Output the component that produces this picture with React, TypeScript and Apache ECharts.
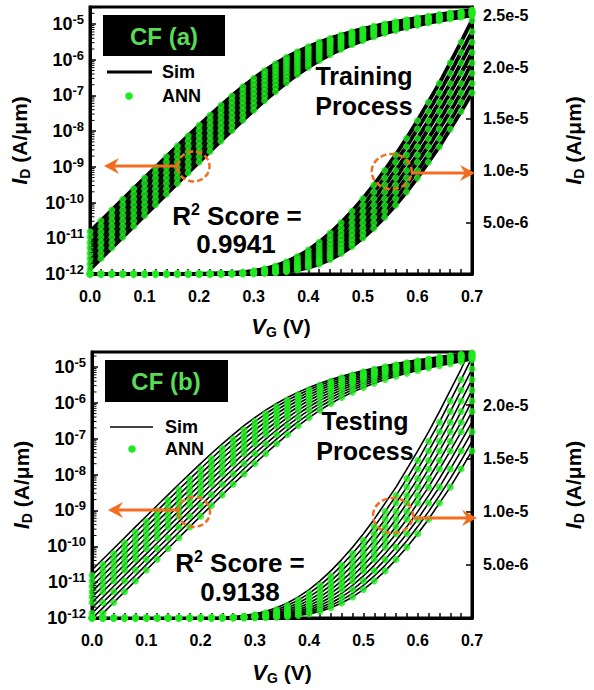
import React, { useEffect, useRef } from 'react';
import * as echarts from 'echarts';

// ---------- data ----------
const vgValues = [0, 0.02, 0.04, 0.06, 0.08, 0.1, 0.12, 0.14, 0.16, 0.18, 0.2, 0.22, 0.24, 0.26, 0.28, 0.3, 0.32, 0.34, 0.36, 0.38, 0.4, 0.42, 0.44, 0.46, 0.48, 0.5, 0.52, 0.54, 0.56, 0.58, 0.6, 0.62, 0.64, 0.66, 0.68, 0.7];

const curveVt030 = [2.17e-11, 4.34e-11, 8.68e-11, 1.73e-10, 3.46e-10, 6.88e-10, 1.37e-9, 2.71e-9, 5.34e-9, 1.04e-8, 2.02e-8, 3.85e-8, 7.18e-8, 1.30e-7, 2.29e-7, 3.86e-7, 6.22e-7, 9.57e-7, 1.41e-6, 1.98e-6, 2.67e-6, 3.49e-6, 4.43e-6, 5.49e-6, 6.65e-6, 7.92e-6, 9.29e-6, 1.08e-5, 1.23e-5, 1.40e-5, 1.57e-5, 1.75e-5, 1.94e-5, 2.14e-5, 2.34e-5, 2.56e-5];
const curveVt031 = [1.53e-11, 3.07e-11, 6.14e-11, 1.23e-10, 2.45e-10, 4.88e-10, 9.70e-10, 1.93e-9, 3.81e-9, 7.47e-9, 1.45e-8, 2.79e-8, 5.27e-8, 9.71e-8, 1.74e-7, 2.99e-7, 4.93e-7, 7.76e-7, 1.17e-6, 1.68e-6, 2.31e-6, 3.07e-6, 3.95e-6, 4.95e-6, 6.06e-6, 7.27e-6, 8.59e-6, 1.00e-5, 1.15e-5, 1.31e-5, 1.48e-5, 1.66e-5, 1.84e-5, 2.04e-5, 2.24e-5, 2.45e-5];
const curveVt032 = [1.08e-11, 2.17e-11, 4.34e-11, 8.68e-11, 1.73e-10, 3.46e-10, 6.88e-10, 1.37e-9, 2.71e-9, 5.34e-9, 1.04e-8, 2.02e-8, 3.85e-8, 7.18e-8, 1.30e-7, 2.29e-7, 3.86e-7, 6.22e-7, 9.57e-7, 1.41e-6, 1.98e-6, 2.67e-6, 3.49e-6, 4.43e-6, 5.49e-6, 6.65e-6, 7.92e-6, 9.29e-6, 1.08e-5, 1.23e-5, 1.40e-5, 1.57e-5, 1.75e-5, 1.94e-5, 2.14e-5, 2.34e-5];
const curveVt033 = [7.66e-12, 1.53e-11, 3.07e-11, 6.14e-11, 1.23e-10, 2.45e-10, 4.88e-10, 9.70e-10, 1.93e-9, 3.81e-9, 7.47e-9, 1.45e-8, 2.79e-8, 5.27e-8, 9.71e-8, 1.74e-7, 2.99e-7, 4.93e-7, 7.76e-7, 1.17e-6, 1.68e-6, 2.31e-6, 3.07e-6, 3.95e-6, 4.95e-6, 6.06e-6, 7.27e-6, 8.59e-6, 1.00e-5, 1.15e-5, 1.31e-5, 1.48e-5, 1.66e-5, 1.84e-5, 2.04e-5, 2.24e-5];
const curveVt034 = [5.42e-12, 1.08e-11, 2.17e-11, 4.34e-11, 8.68e-11, 1.73e-10, 3.46e-10, 6.88e-10, 1.37e-9, 2.71e-9, 5.34e-9, 1.04e-8, 2.02e-8, 3.85e-8, 7.18e-8, 1.30e-7, 2.29e-7, 3.86e-7, 6.22e-7, 9.57e-7, 1.41e-6, 1.98e-6, 2.67e-6, 3.49e-6, 4.43e-6, 5.49e-6, 6.65e-6, 7.92e-6, 9.29e-6, 1.08e-5, 1.23e-5, 1.40e-5, 1.57e-5, 1.75e-5, 1.94e-5, 2.14e-5];
const curveVt035 = [3.83e-12, 7.66e-12, 1.53e-11, 3.07e-11, 6.14e-11, 1.23e-10, 2.45e-10, 4.88e-10, 9.70e-10, 1.93e-9, 3.81e-9, 7.47e-9, 1.45e-8, 2.79e-8, 5.27e-8, 9.71e-8, 1.74e-7, 2.99e-7, 4.93e-7, 7.76e-7, 1.17e-6, 1.68e-6, 2.31e-6, 3.07e-6, 3.95e-6, 4.95e-6, 6.06e-6, 7.27e-6, 8.59e-6, 1.00e-5, 1.15e-5, 1.31e-5, 1.48e-5, 1.66e-5, 1.84e-5, 2.04e-5];
const curveVt036 = [2.71e-12, 5.42e-12, 1.08e-11, 2.17e-11, 4.34e-11, 8.68e-11, 1.73e-10, 3.46e-10, 6.88e-10, 1.37e-9, 2.71e-9, 5.34e-9, 1.04e-8, 2.02e-8, 3.85e-8, 7.18e-8, 1.30e-7, 2.29e-7, 3.86e-7, 6.22e-7, 9.57e-7, 1.41e-6, 1.98e-6, 2.67e-6, 3.49e-6, 4.43e-6, 5.49e-6, 6.65e-6, 7.92e-6, 9.29e-6, 1.08e-5, 1.23e-5, 1.40e-5, 1.57e-5, 1.75e-5, 1.94e-5];
const curveVt037 = [1.92e-12, 3.83e-12, 7.66e-12, 1.53e-11, 3.07e-11, 6.14e-11, 1.23e-10, 2.45e-10, 4.88e-10, 9.70e-10, 1.93e-9, 3.81e-9, 7.47e-9, 1.45e-8, 2.79e-8, 5.27e-8, 9.71e-8, 1.74e-7, 2.99e-7, 4.93e-7, 7.76e-7, 1.17e-6, 1.68e-6, 2.31e-6, 3.07e-6, 3.95e-6, 4.95e-6, 6.06e-6, 7.27e-6, 8.59e-6, 1.00e-5, 1.15e-5, 1.31e-5, 1.48e-5, 1.66e-5, 1.84e-5];
const curveVt038 = [1.35e-12, 2.71e-12, 5.42e-12, 1.08e-11, 2.17e-11, 4.34e-11, 8.68e-11, 1.73e-10, 3.46e-10, 6.88e-10, 1.37e-9, 2.71e-9, 5.34e-9, 1.04e-8, 2.02e-8, 3.85e-8, 7.18e-8, 1.30e-7, 2.29e-7, 3.86e-7, 6.22e-7, 9.57e-7, 1.41e-6, 1.98e-6, 2.67e-6, 3.49e-6, 4.43e-6, 5.49e-6, 6.65e-6, 7.92e-6, 9.29e-6, 1.08e-5, 1.23e-5, 1.40e-5, 1.57e-5, 1.75e-5];
const curveVt039 = [9.57e-13, 1.92e-12, 3.83e-12, 7.66e-12, 1.53e-11, 3.07e-11, 6.14e-11, 1.23e-10, 2.45e-10, 4.88e-10, 9.70e-10, 1.93e-9, 3.81e-9, 7.47e-9, 1.45e-8, 2.79e-8, 5.27e-8, 9.71e-8, 1.74e-7, 2.99e-7, 4.93e-7, 7.76e-7, 1.17e-6, 1.68e-6, 2.31e-6, 3.07e-6, 3.95e-6, 4.95e-6, 6.06e-6, 7.27e-6, 8.59e-6, 1.00e-5, 1.15e-5, 1.31e-5, 1.48e-5, 1.66e-5];
const curveVt040 = [6.77e-13, 1.35e-12, 2.71e-12, 5.42e-12, 1.08e-11, 2.17e-11, 4.34e-11, 8.68e-11, 1.73e-10, 3.46e-10, 6.88e-10, 1.37e-9, 2.71e-9, 5.34e-9, 1.04e-8, 2.02e-8, 3.85e-8, 7.18e-8, 1.30e-7, 2.29e-7, 3.86e-7, 6.22e-7, 9.57e-7, 1.41e-6, 1.98e-6, 2.67e-6, 3.49e-6, 4.43e-6, 5.49e-6, 6.65e-6, 7.92e-6, 9.29e-6, 1.08e-5, 1.23e-5, 1.40e-5, 1.57e-5];

// Panel (a): training set, Panel (b): testing set
const simCurvesA = [curveVt031, curveVt032, curveVt033, curveVt034, curveVt035, curveVt036, curveVt037, curveVt038];
const annCurvesA = [curveVt031, curveVt032, curveVt033, curveVt034, curveVt035, curveVt036, curveVt037, curveVt038];
const simCurvesB = [curveVt030, curveVt031, curveVt032, curveVt033, curveVt034, curveVt035, curveVt036, curveVt037, curveVt038, curveVt039, curveVt040];
const annCurvesB = [curveVt031, curveVt032, curveVt033, curveVt034, curveVt035, curveVt036, curveVt038, curveVt040];

const logMinorTicks = [
  2e-12, 3e-12, 4e-12, 5e-12, 6e-12, 7e-12, 8e-12, 9e-12,
  2e-11, 3e-11, 4e-11, 5e-11, 6e-11, 7e-11, 8e-11, 9e-11,
  2e-10, 3e-10, 4e-10, 5e-10, 6e-10, 7e-10, 8e-10, 9e-10,
  2e-9, 3e-9, 4e-9, 5e-9, 6e-9, 7e-9, 8e-9, 9e-9,
  2e-8, 3e-8, 4e-8, 5e-8, 6e-8, 7e-8, 8e-8, 9e-8,
  2e-7, 3e-7, 4e-7, 5e-7, 6e-7, 7e-7, 8e-7, 9e-7,
  2e-6, 3e-6, 4e-6, 5e-6, 6e-6, 7e-6, 8e-6, 9e-6,
  2e-5,
];

const panelTitles = ['CF (a)', 'CF (b)'];
const processLines = [['Training', 'Process'], ['Testing', 'Process']];
const r2Scores = ['0.9941', '0.9138'];

// ---------- styling ----------
const FONT = "'Liberation Sans', Arial, Helvetica, sans-serif";
const GREEN = '#1fea1f';
const TITLE_GREEN = '#58dc58';
const ORANGE = '#f26d1f';

const nameRich = {
  i: { fontFamily: FONT, fontSize: 22, fontWeight: 'bold', fontStyle: 'italic', color: '#000', lineHeight: 26, verticalAlign: 'middle' },
  sub: { fontFamily: FONT, fontSize: 14, fontWeight: 'bold', color: '#000', lineHeight: 14, verticalAlign: 'bottom' },
  n: { fontFamily: FONT, fontSize: 21, fontWeight: 'bold', color: '#000', lineHeight: 26, verticalAlign: 'middle' },
};

const logLabelRich = {
  b: { fontFamily: FONT, fontSize: 18, fontWeight: 'bold', color: '#000', lineHeight: 22, verticalAlign: 'middle' },
  s: { fontFamily: FONT, fontSize: 13, fontWeight: 'bold', color: '#000', lineHeight: 13, verticalAlign: 'top' },
};

const logFmt = (v: number) => {
  const e = Math.log10(v);
  const r = Math.round(e);
  if (Math.abs(e - r) > 0.01) return '';
  return `{b|10}{s|${r}}`;
};

const linFmt = (v: number) => {
  if (v <= 0) return '';
  const k = v / 5e-6;
  if (Math.abs(k - Math.round(k)) > 1e-3) return '';
  return v.toExponential(1);
};

const grids = [
  { left: 89, top: 7, width: 388, height: 267 },
  { left: 92, top: 352, width: 386, height: 266 },
];
const logMax = [3e-5, 2.6e-5];
const linMax = [2.58e-5, 2.5e-5];
const xNameGap = [39, 41];
const simLineWidth = [4, 1.6];

function buildOption() {
  const series: any[] = [];
  const addPanel = (p: number, sims: number[][], anns: number[][]) => {
    const yIdx = [p * 2, p * 2 + 1];
    yIdx.forEach((yi) => {
      sims.forEach((c) => {
        series.push({
          type: 'line', xAxisIndex: p, yAxisIndex: yi,
          data: vgValues.map((v, i) => [v, c[i]]),
          symbol: 'none', showSymbol: false, silent: true, z: 2,
          lineStyle: { color: '#000', width: simLineWidth[p] },
        });
      });
    });
    yIdx.forEach((yi) => {
      anns.forEach((c) => {
        series.push({
          type: 'scatter', xAxisIndex: p, yAxisIndex: yi,
          data: vgValues.map((v, i) => [v, c[i]]),
          symbolSize: 7, silent: true, z: 3,
          itemStyle: { color: GREEN },
        });
      });
    });
    series.push({
      type: 'custom', xAxisIndex: p, yAxisIndex: p * 2, silent: true, z: 5,
      data: logMinorTicks.map((v) => [0, v]),
      renderItem: (params: any, api: any) => {
        const pt = api.coord([0, api.value(1)]);
        return {
          type: 'line',
          shape: { x1: pt[0] + 1, y1: pt[1], x2: pt[0] + 4.5, y2: pt[1] },
          style: { stroke: '#000', lineWidth: 1 },
        };
      },
    });
  };
  addPanel(0, simCurvesA, annCurvesA);
  addPanel(1, simCurvesB, annCurvesB);

  const axisLine = { show: true, onZero: false, lineStyle: { color: '#000', width: 3 } };

  const xAxis = [0, 1].map((p) => ({
    type: 'value', gridIndex: p, min: 0, max: 0.7, interval: 0.1,
    axisLine,
    axisTick: { show: true, inside: true, length: 5, lineStyle: { color: '#000', width: 1.5 } },
    minorTick: { show: true, splitNumber: 5, length: 5, lineStyle: { color: '#000', width: 1.5 } },
    splitLine: { show: false }, minorSplitLine: { show: false },
    axisLabel: {
      formatter: (v: number) => v.toFixed(1), fontFamily: FONT, fontSize: 16, fontWeight: 'bold', color: '#000', margin: 14,
    },
    name: '{i|V}{sub|G}{n| (V)}', nameLocation: 'middle', nameGap: xNameGap[p],
    nameTextStyle: { rich: nameRich },
  }));

  const yAxis: any[] = [];
  [0, 1].forEach((p) => {
    yAxis.push({
      type: 'log', gridIndex: p, logBase: 10, min: 1e-12, max: logMax[p], interval: 1, splitNumber: 8,
      position: 'left', axisLine,
      axisTick: { show: true, inside: true, length: 6, lineStyle: { color: '#000', width: 1.5 } },
      splitLine: { show: false },
      axisLabel: { formatter: logFmt, rich: logLabelRich, margin: 6, showMaxLabel: false },
      name: '{i|I}{sub|D}{n| (A/μm)}', nameLocation: 'middle', nameRotate: 90, nameGap: 58,
      nameTextStyle: { rich: nameRich },
    });
    yAxis.push({
      type: 'value', gridIndex: p, min: 0, max: linMax[p], interval: 5e-6,
      position: 'right', axisLine,
      axisTick: { show: true, inside: true, length: 6, lineStyle: { color: '#000', width: 1.5 } },
      splitLine: { show: false },
      axisLabel: {
        formatter: linFmt, fontFamily: FONT, fontSize: 16, fontWeight: 'bold', color: '#000', margin: 11, showMaxLabel: false,
      },
      name: '{i|I}{sub|D}{n| (A/μm)}', nameLocation: 'middle', nameRotate: 90, nameGap: 88,
      nameTextStyle: { rich: nameRich },
    });
  });

  const txt = (x: number, y: number, text: string, size: number, extra: any = {}) => ({
    type: 'text', x, y, z: 100,
    style: {
      text, fontFamily: FONT, fontSize: size, fontWeight: 'bold', fill: '#000',
      align: 'center', verticalAlign: 'middle', ...extra,
    },
  });
  const arrowHead = (tx: number, ty: number, dir: number) => ({
    type: 'polygon', z: 100,
    shape: { points: [[tx, ty], [tx - dir * 15, ty - 8], [tx - dir * 10, ty], [tx - dir * 15, ty + 8]] },
    style: { fill: ORANGE },
  });
  const dashedEllipse = (cx: number, cy: number, rx: number, ry: number) => ({
    type: 'ellipse', z: 100, shape: { cx, cy, rx, ry },
    style: { fill: 'none', stroke: ORANGE, lineWidth: 2.5, lineDash: [6, 3] },
  });
  const hLine = (x1: number, x2: number, y: number, color: string, w: number) => ({
    type: 'line', z: 100, shape: { x1, y1: y, x2, y2: y }, style: { stroke: color, lineWidth: w },
  });
  const r2Rich = {
    r: { fontFamily: FONT, fontSize: 26, fontWeight: 'bold', color: '#000', lineHeight: 30, verticalAlign: 'middle' },
    s: { fontFamily: FONT, fontSize: 16, fontWeight: 'bold', color: '#000', lineHeight: 16, verticalAlign: 'top' },
  };

  const graphic: any[] = [
    // panel (a)
    { type: 'rect', z: 100, shape: { x: 103, y: 15, width: 122, height: 41 }, style: { fill: '#000' } },
    txt(164, 36, panelTitles[0], 24, { fill: TITLE_GREEN }),
    hLine(107, 152, 72, '#000', 3),
    txt(162, 72, 'Sim', 18, { align: 'left' }),
    { type: 'circle', z: 100, shape: { cx: 129, cy: 96, r: 3.8 }, style: { fill: GREEN } },
    txt(162, 96, 'ANN', 18, { align: 'left' }),
    txt(364, 76, processLines[0][0], 25),
    txt(364, 106, processLines[0][1], 25),
    { type: 'text', x: 237, y: 216, z: 100, style: { text: '{r|R}{s|2}{r| Score =}', rich: r2Rich, align: 'center', verticalAlign: 'middle' } },
    txt(236, 244, r2Scores[0], 26),
    dashedEllipse(193.5, 166.5, 16, 15),
    hLine(178, 112, 166, ORANGE, 3),
    arrowHead(104, 166, -1),
    dashedEllipse(391.7, 171.5, 20, 17.5),
    hLine(411, 466, 173, ORANGE, 3),
    arrowHead(475, 173, 1),
    // panel (b)
    { type: 'rect', z: 100, shape: { x: 105, y: 360, width: 123, height: 42 }, style: { fill: '#000' } },
    txt(166, 381, panelTitles[1], 24, { fill: TITLE_GREEN }),
    hLine(110, 153, 427, '#000', 1.5),
    txt(165, 427, 'Sim', 18, { align: 'left' }),
    { type: 'circle', z: 100, shape: { cx: 132, cy: 449, r: 3.8 }, style: { fill: GREEN } },
    txt(165, 449, 'ANN', 18, { align: 'left' }),
    txt(365, 421, processLines[1][0], 25),
    txt(365, 451, processLines[1][1], 25),
    { type: 'text', x: 240, y: 563, z: 100, style: { text: '{r|R}{s|2}{r| Score =}', rich: r2Rich, align: 'center', verticalAlign: 'middle' } },
    txt(240, 592, r2Scores[1], 26),
    dashedEllipse(194, 512, 16, 15),
    hLine(178, 116, 510, ORANGE, 3),
    arrowHead(108, 510, -1),
    dashedEllipse(393, 515.5, 20, 17.5),
    hLine(413, 468, 518, ORANGE, 3),
    arrowHead(477, 518, 1),
  ];

  return {
    animation: false,
    backgroundColor: '#fff',
    textStyle: { fontFamily: FONT },
    grid: grids.map((g) => ({ ...g, show: true, borderColor: '#000', borderWidth: 3, backgroundColor: 'transparent' })),
    xAxis,
    yAxis,
    series,
    graphic,
  };
}

export default function App() {
  const ref = useRef<HTMLDivElement>(null);
  useEffect(() => {
    if (!ref.current) return;
    const chart = echarts.init(ref.current, undefined, { renderer: 'svg' });
    chart.setOption(buildOption() as any);
    return () => chart.dispose();
  }, []);
  return <div ref={ref} style={{ position: 'fixed', left: 0, top: 0, width: 594, height: 690, background: '#fff' }} />;
}
